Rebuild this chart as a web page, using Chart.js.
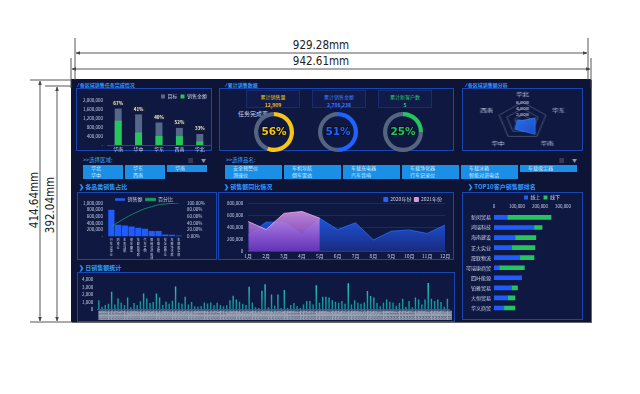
<!DOCTYPE html>
<html>
<head>
<meta charset="utf-8">
<script src="https://cdn.jsdelivr.net/npm/chart.js@4.4.1/dist/chart.umd.min.js"></script>
<style>
html, body { margin: 0; padding: 0; width: 640px; height: 394px; overflow: hidden; background: #fff;
  font-family: "Noto Sans CJK SC", "Noto Sans", sans-serif; }
#dash { position: absolute; left: 71px; top: 79px; width: 520px; height: 243px; background: #0d1436;
  box-shadow: 1px 1px 0 #666; }
.panel { position: absolute; border: 1px solid #1a46b4; background: #0f1841; box-sizing: border-box; }
.kpi { position: absolute; border: 1px solid #1c2b6e; background: #101b4a; box-sizing: border-box; text-align: center; }
.txt { position: absolute; white-space: nowrap; }
.btn { position: absolute; background: #1b8fe6; color: #d6ecff; font-size: 5px; line-height: 6.5px; height: 6.5px;
  padding-left: 8px; box-sizing: border-box; white-space: nowrap; }
canvas { position: absolute; }
</style>
</head>
<body>
<div id="dash"></div>
<svg width="640" height="394" style="position:absolute;left:0;top:0">
  <defs>
    <marker id="arr" viewBox="0 0 10 10" refX="9" refY="5" markerWidth="5" markerHeight="5" orient="auto-start-reverse">
      <path d="M0,1 L10,5 L0,9 z" fill="#444"/>
    </marker>
  </defs>
  <g stroke="#444" stroke-width="0.9">
    <line x1="75" y1="38" x2="75" y2="80"/>
    <line x1="588" y1="38" x2="588" y2="80"/>
    <line x1="71" y1="58" x2="71" y2="88"/>
    <line x1="591" y1="58" x2="591" y2="88"/>
    <line x1="76" y1="53" x2="587" y2="53" marker-start="url(#arr)" marker-end="url(#arr)"/>
    <line x1="72" y1="69" x2="590" y2="69" marker-start="url(#arr)" marker-end="url(#arr)"/>
    <line x1="30" y1="80" x2="72" y2="80"/>
    <line x1="45" y1="86" x2="72" y2="86"/>
    <line x1="30" y1="322" x2="72" y2="322"/>
    <line x1="40" y1="81" x2="40" y2="321" marker-start="url(#arr)" marker-end="url(#arr)"/>
    <line x1="57" y1="87" x2="57" y2="321" marker-start="url(#arr)" marker-end="url(#arr)"/>
  </g>
  <g font-family="Liberation Sans Narrow, DejaVu Sans Condensed, sans-serif" font-size="11.5" fill="#222" text-anchor="middle">
    <text x="321" y="49">929.28mm</text>
    <text x="321" y="65">942.61mm</text>
    <text transform="translate(38,200) rotate(-90)">414.64mm</text>
    <text transform="translate(54,205) rotate(-90)">392.04mm</text>
  </g>
</svg>
<script>
// ---- data ----
const regionLabels = ['华南', '华中', '华东', '西南', '华北'];
const regionTarget = [1620000, 1360000, 1000000, 760000, 490000];
const regionSales = [1080000, 555000, 400000, 395000, 160000];
const regionRate = ['67%', '41%', '40%', '52%', '33%'];

const kpiLabels = ['累计销售量', '累计销售金额', '累计新客户数'];
const kpiValues = ['12,909', '2,706,238', '5'];
const gaugeRates = [56, 51, 25];

const radarLabels = ['华北', '华东', '华南', '华中', '西南'];
const radarValues = [200, 3200, 5200, 3200, 1300];

const areaFilter = [['华北', '华东', '华南'], ['华中', '西南']];
const productFilter = [
  ['安全预警仪', '车机导航', '车载充电器', '车载净化器', '车载冰箱', '车载吸尘器'],
  ['测速仪', '倒车雷达', '汽车音响', '行车记录仪', '智能对讲电话']
];

const paretoLabels = ['行车记录仪', '测速仪', '车机导航', '倒车雷达', '车载充电器', '汽车音响',
  '智能对讲电话', '车载冰箱', '安全预警仪', '车载净化器', '车载吸尘器'];
const paretoSales = [800000, 350000, 330000, 300000, 260000, 230000, 160000, 160000, 60000, 50000, 30000];
const paretoPct = [29.3, 42.1, 54.2, 65.2, 74.7, 83.2, 89.0, 94.9, 97.1, 98.9, 100];

const monthLabels = ['1月', '2月', '3月', '4月', '5月', '6月', '7月', '8月', '9月', '10月', '11月', '12月'];
const sales2020 = [265000, 481000, 481000, 275000, 546000, 357000, 470000, 184000, 330000, 351000, 292000, 432000];
const sales2021 = [492000, 357000, 627000, 659000, 546000];

const customerLabels = ['新闵贸易', '鸿瑞科技', '海南建设', '正大实业', '晟联物流', '可瑞康商贸',
  '四叶能源', '铂雅贸易', '大恒贸易', '华义商贸'];
const onlineSales = [58000, 174000, 92000, 77000, 112000, 23000, 120000, 77000, 60000, 43000];
const offlineSales = [190000, 35000, 90000, 101000, 62000, 109000, 0, 25000, 31000, 48000];

const dailyValues = [
  1240, 380, 620, 760, 2380, 670, 1480, 900, 620, 1620, 290, 860, 570, 1100, 2140, 1480, 860, 1000, 2140, 1620,
  620, 1050, 760, 1190, 3100, 900, 760, 1710, 670, 1000, 430, 380, 480, 950, 810, 950, 570, 900, 620,
  430, 570, 1240, 1860, 1330, 1050, 760, 620, 3050, 950, 290, 190, 2520, 3380, 290, 2000, 520, 2000, 190, 2620,
  190, 620, 860, 480, 190, 670, 1140, 1140, 670, 3240, 900, 1710, 1710, 1620, 1240, 1050, 900, 1140, 760, 3520,
  670, 1240, 900, 760, 950, 2480, 1810, 1620, 860, 430, 900, 1330, 1050, 900, 520, 860, 1430, 380, 1140, 290,
  1620, 1330, 670, 1330, 3570, 1430, 1140, 1330, 1000, 380, 1430
];
// 日期标签（2021-01-01 起按天）
const dailyLabels = dailyValues.map((_, i) => {
  const d = new Date(2021, 0, 1 + i);
  return String(d.getMonth() + 1).padStart(2, '0') + '-' + String(d.getDate()).padStart(2, '0');
});

// ---- helpers ----
const FONT = '"Noto Sans CJK SC", "Noto Sans", sans-serif';
Chart.defaults.font.family = FONT;
Chart.defaults.color = '#c8d0e8';
Chart.defaults.animation = false;
Chart.defaults.responsive = false;
Chart.defaults.events = [];
Chart.defaults.plugins.tooltip.enabled = false;
Chart.defaults.devicePixelRatio = 1;

function addDiv(cls, x, y, w, h, text, css) {
  const d = document.createElement('div');
  d.className = cls;
  d.style.left = x + 'px';
  d.style.top = y + 'px';
  if (w) d.style.width = w + 'px';
  if (h) d.style.height = h + 'px';
  if (text) d.textContent = text;
  if (css) Object.assign(d.style, css);
  document.body.appendChild(d);
  return d;
}

function makeCanvas(x, y, w, h, cssW) {
  const c = document.createElement('canvas');
  c.width = w;
  c.height = h;
  c.style.left = x + 'px';
  c.style.top = y + 'px';
  c.style.width = (cssW || w) + 'px';
  c.style.height = h + 'px';
  document.body.appendChild(c);
  return c;
}

function vGradient(top, bottom) {
  return (ctx) => {
    const a = ctx.chart.chartArea;
    if (!a) return top;
    const g = ctx.chart.ctx.createLinearGradient(0, a.top, 0, a.bottom);
    g.addColorStop(0, top);
    g.addColorStop(1, bottom);
    return g;
  };
}

const fmt = v => v.toLocaleString('en-US');
const noGrid = { display: false, drawTicks: false };
const legendSmall = {
  display: true, position: 'top', align: 'end', maxHeight: 9,
  labels: { boxWidth: 4, boxHeight: 4, font: { size: 5 }, color: '#c8d0e8', padding: 3 }
};

// ---- 面板和标题 ----
function title(x, y, text, chevron) {
  addDiv('txt', x, y, 0, 0, (chevron ? '❯ ' : '⁄ ') + text,
    { color: '#2f9bff', fontSize: chevron ? '6px' : '5px', fontWeight: 'bold', lineHeight: '7px' });
}
title(78, 81, '各区域销售任务完成情况');
title(226, 81, '累计销售数据');
title(466, 81, '各区域销售额分析');
title(79, 183, '各品类销售占比', true);
title(224, 183, '销售额同比情况', true);
title(468, 183, 'TOP10客户销售额排名', true);
title(79, 264, '日销售额统计', true);

addDiv('panel', 76, 88, 136, 63);
addDiv('panel', 219, 88, 235, 63);
addDiv('panel', 462, 88, 121, 63);
addDiv('panel', 77, 192, 140, 68);
addDiv('panel', 218, 192, 236, 68);
addDiv('panel', 462, 192, 121, 128);
addDiv('panel', 77, 272, 378, 50);

// KPI
const kpiColors = ['#f0c419', '#3d7bff', '#2ecc71'];
const kpiX = [246, 312, 378];
kpiLabels.forEach((t, i) => {
  const b = addDiv('kpi', kpiX[i], 90, 54, 18);
  b.innerHTML = '<div style="font-size:5px;line-height:6px;margin-top:3px;color:' + kpiColors[i] + '">' + t +
    '</div><div style="font-size:5px;line-height:6px;margin-top:2px;font-weight:bold;color:' + kpiColors[i] + '">' +
    kpiValues[i] + '</div>';
});
addDiv('txt', 238, 110, 0, 0, '任务完成率:', { color: '#c8d0e8', fontSize: '6px', lineHeight: '7px' });

// 筛选按钮
addDiv('txt', 83, 157, 0, 0, '>>选择区域:', { color: '#3aa0ff', fontSize: '5.5px', lineHeight: '6px' });
addDiv('txt', 226, 157, 0, 0, '>>选择品名:', { color: '#3aa0ff', fontSize: '5.5px', lineHeight: '6px' });
[[188, 157], [201, 157], [559, 157], [572, 157]].forEach(([x, y], i) => {
  addDiv('txt', x, y, 0, 0, i % 2 ? '▼' : '▤', { color: '#8f97aa', fontSize: '5px', lineHeight: '6px' });
});
areaFilter.forEach((row, r) => row.forEach((t, c) => addDiv('btn', 83 + c * 42, 165 + r * 7.3, 40, 0, t)));
productFilter.forEach((row, r) => row.forEach((t, c) => addDiv('btn', 225 + c * 59, 165 + r * 7.3, 57, 0, t)));

// ---- 1. 各区域销售任务完成情况 ----
const rateLabelPlugin = {
  id: 'rateLabel',
  afterDatasetsDraw(chart) {
    const ctx = chart.ctx;
    const meta = chart.getDatasetMeta(0);
    ctx.save();
    ctx.font = 'bold 4.5px ' + FONT;
    ctx.textAlign = 'center';
    ctx.textBaseline = 'middle';
    meta.data.forEach((bar, i) => {
      const t = regionRate[i];
      const w = ctx.measureText(t).width + 3;
      ctx.fillStyle = '#1a1f30';
      ctx.fillRect(bar.x - w / 2, bar.y - 8, w, 5.5);
      ctx.fillStyle = '#e8ecf5';
      ctx.fillText(t, bar.x, bar.y - 5.2);
    });
    ctx.restore();
  }
};
new Chart(makeCanvas(78, 91, 133, 62), {
  type: 'bar',
  data: {
    labels: regionLabels,
    datasets: [
      { label: '目标', data: regionTarget, backgroundColor: '#55688a', order: 1, grouped: false,
        barPercentage: 0.34, categoryPercentage: 1 },
      { label: '销售金额', data: regionSales, backgroundColor: '#27c65a', order: 0, grouped: false,
        barPercentage: 0.34, categoryPercentage: 1 }
    ]
  },
  options: {
    layout: { padding: { right: 1, bottom: 0 } },
    plugins: {
      legend: { ...legendSmall, labels: { ...legendSmall.labels, sort: (a, b) => a.datasetIndex - b.datasetIndex } }
    },
    scales: {
      x: { grid: noGrid, border: { color: '#3a4566' }, ticks: { font: { size: 5 }, padding: 1 } },
      y: { min: 0, max: 2000000, grid: noGrid, border: { display: false },
        ticks: { stepSize: 400000, autoSkip: false, font: { size: 4.5 }, padding: 5,
          callback: v => v === 0 ? '-' : fmt(v) } }
    }
  },
  plugins: [rateLabelPlugin]
});

// ---- 2. 完成率仪表 ----
const gaugeTextPlugin = {
  id: 'gaugeText',
  afterDraw(chart, args, opts) {
    const { ctx, chartArea } = chart;
    const x = (chartArea.left + chartArea.right) / 2;
    const y = (chartArea.top + chartArea.bottom) / 2;
    ctx.save();
    ctx.font = 'bold 10.5px "DejaVu Sans"';
    ctx.textAlign = 'center';
    ctx.textBaseline = 'middle';
    ctx.lineWidth = 2;
    ctx.strokeStyle = '#0a0f24';
    ctx.strokeText(opts.text, x, y + 0.5);
    ctx.fillStyle = opts.color;
    ctx.fillText(opts.text, x, y + 0.5);
    ctx.restore();
  }
};
const gaugeCenters = [[274, 132], [338, 132], [403, 132]];
const gaugeColors = ['#f5c518', '#1f62ff', '#22c55e'];
gaugeRates.forEach((r, i) => {
  const [cx, cy] = gaugeCenters[i];
  new Chart(makeCanvas(cx - 20, cy - 20, 40, 40), {
    type: 'doughnut',
    data: { labels: ['完成', '未完成'],
      datasets: [{ data: [r, 100 - r], backgroundColor: [gaugeColors[i], '#56657f'], borderWidth: 0 }] },
    options: {
      cutout: '79%',
      plugins: { legend: { display: false }, gaugeText: { text: r + '%', color: gaugeColors[i] } }
    },
    plugins: [gaugeTextPlugin]
  });
});

// ---- 3. 雷达图 ----
new Chart(makeCanvas(463, 89, 92, 61, 119), {
  type: 'radar',
  data: {
    labels: radarLabels,
    datasets: [{ label: '销售额', data: radarValues, borderColor: '#3b86ff', borderWidth: 0.6, pointRadius: 0,
      backgroundColor: (ctx) => {
        const a = ctx.chart.chartArea;
        if (!a) return '#1f6fff';
        const g = ctx.chart.ctx.createLinearGradient(a.left + 30, a.top + 25, a.right - 25, a.bottom);
        g.addColorStop(0, '#2d7fff');
        g.addColorStop(1, '#1430a0');
        return g;
      } }]
  },
  options: {
    plugins: { legend: { display: false } },
    scales: {
      r: {
        min: 0, max: 6000,
        angleLines: { display: false },
        grid: { color: '#59637e', lineWidth: 0.7 },
        pointLabels: { font: { size: 5 }, color: '#c8d0e8', padding: 1 },
        ticks: { stepSize: 2000, font: { size: 4 }, color: '#e0e6f5', backdropColor: 'rgba(0,0,0,0)', callback: fmt }
      }
    }
  }
});

// ---- 4. 各品类销售占比（帕累托） ----
new Chart(makeCanvas(78, 194, 138, 68), {
  type: 'bar',
  data: {
    labels: paretoLabels.map(s => s.split('')),
    datasets: [
      { type: 'line', label: '百分比', data: paretoPct, yAxisID: 'y1', borderColor: '#1f9e5a',
        backgroundColor: '#1f9e5a', borderWidth: 0.8, pointRadius: 0, tension: 0.3, order: 0 },
      { label: '销售额', data: paretoSales, yAxisID: 'y', backgroundColor: '#1f5cff', barPercentage: 0.92,
        categoryPercentage: 1, order: 1 }
    ]
  },
  options: {
    layout: { padding: { right: 6, bottom: 0 } },
    plugins: {
      legend: { display: true, position: 'top', align: 'center', maxHeight: 9,
        labels: { boxWidth: 10, boxHeight: 2.5, font: { size: 5 }, color: '#c8d0e8', padding: 3,
          sort: (a, b) => b.datasetIndex - a.datasetIndex } }
    },
    scales: {
      x: { grid: noGrid, border: { display: false },
        ticks: { font: { size: 3 }, padding: 2, autoSkip: false, maxRotation: 0 } },
      y: { min: 0, max: 1000000, grid: noGrid, border: { display: false },
        ticks: { stepSize: 200000, autoSkip: false, font: { size: 4.5 }, padding: 5,
          callback: v => v === 0 ? '-' : fmt(v) } },
      y1: { position: 'right', min: 0, max: 100, grid: noGrid, border: { display: false },
        ticks: { stepSize: 20, autoSkip: false, font: { size: 4.5 }, padding: 5, callback: v => v.toFixed(2) + '%' } }
    }
  }
});

// ---- 5. 销售额同比情况 ----
new Chart(makeCanvas(219, 194, 234, 68), {
  type: 'line',
  data: {
    labels: monthLabels,
    datasets: [
      { label: '2020年份', data: sales2020, fill: 'origin', borderColor: '#2a6dff', borderWidth: 0.8,
        pointRadius: 0, tension: 0, backgroundColor: vGradient('#1f66ff', '#1a2b80'), order: 1 },
      { label: '2021年份', data: sales2021, fill: 'origin', borderColor: '#f0b8f0', borderWidth: 0.8,
        pointRadius: 0, tension: 0, backgroundColor: vGradient('rgba(236,168,240,0.88)', 'rgba(112,52,196,0.85)'),
        order: 0 }
    ]
  },
  options: {
    layout: { padding: { left: 3, right: 8, bottom: 1 } },
    plugins: { legend: { ...legendSmall, labels: { ...legendSmall.labels, padding: 3,
      sort: (a, b) => a.datasetIndex - b.datasetIndex } } },
    scales: {
      x: { offset: false, grid: noGrid, border: { color: '#2b3a80' },
        ticks: { font: { size: 5 }, padding: 2, autoSkip: false, maxRotation: 0 } },
      y: { min: 0, max: 800000, grid: { color: 'rgba(150,170,230,0.12)', drawTicks: false }, border: { display: false },
        ticks: { stepSize: 200000, autoSkip: false, font: { size: 4.5 }, padding: 5, callback: fmt } }
    }
  }
});

// ---- 6. TOP10客户销售额排名 ----
new Chart(makeCanvas(462, 192, 121, 127), {
  type: 'bar',
  data: {
    labels: customerLabels,
    datasets: [
      { label: '线上', data: onlineSales, backgroundColor: '#1f5cff', barThickness: 4 },
      { label: '线下', data: offlineSales, backgroundColor: '#22c55e', barThickness: 4 }
    ]
  },
  options: {
    indexAxis: 'y',
    layout: { padding: { left: 1, right: 20, bottom: 2 } },
    plugins: { legend: { ...legendSmall, labels: { ...legendSmall.labels, padding: 3 } } },
    scales: {
      x: { position: 'top', stacked: true, min: 0, max: 300000, grid: noGrid, border: { display: false },
        ticks: { stepSize: 100000, autoSkip: false, maxRotation: 0, font: { size: 4.5 }, padding: 3, callback: fmt } },
      y: { stacked: true, grid: noGrid, border: { display: false },
        ticks: { autoSkip: false, font: { size: 5 }, padding: 3 } }
    }
  }
});

// ---- 7. 日销售额统计 ----
new Chart(makeCanvas(78, 273, 376, 48), {
  type: 'bar',
  data: {
    labels: dailyLabels,
    datasets: [{ label: '日销售额', data: dailyValues, backgroundColor: vGradient('#2ad6c2', '#108a96'),
      barPercentage: 0.45, categoryPercentage: 1 }]
  },
  options: {
    layout: { padding: { right: 5, top: 3 } },
    plugins: { legend: { display: false } },
    scales: {
      x: { grid: noGrid, border: { color: '#4a5675' },
        ticks: { font: { size: 3.3 }, color: '#4b556e', padding: 1.5, autoSkip: false, minRotation: 90, maxRotation: 90,
          showLabelBackdrop: true, backdropColor: '#9ba4b6', backdropPadding: 0.4 } },
      y: { min: 0, max: 4000, grid: noGrid, border: { display: false },
        ticks: { stepSize: 1000, autoSkip: false, font: { size: 4.5 }, padding: 4, callback: fmt } }
    }
  }
});
</script>
</body>
</html>
